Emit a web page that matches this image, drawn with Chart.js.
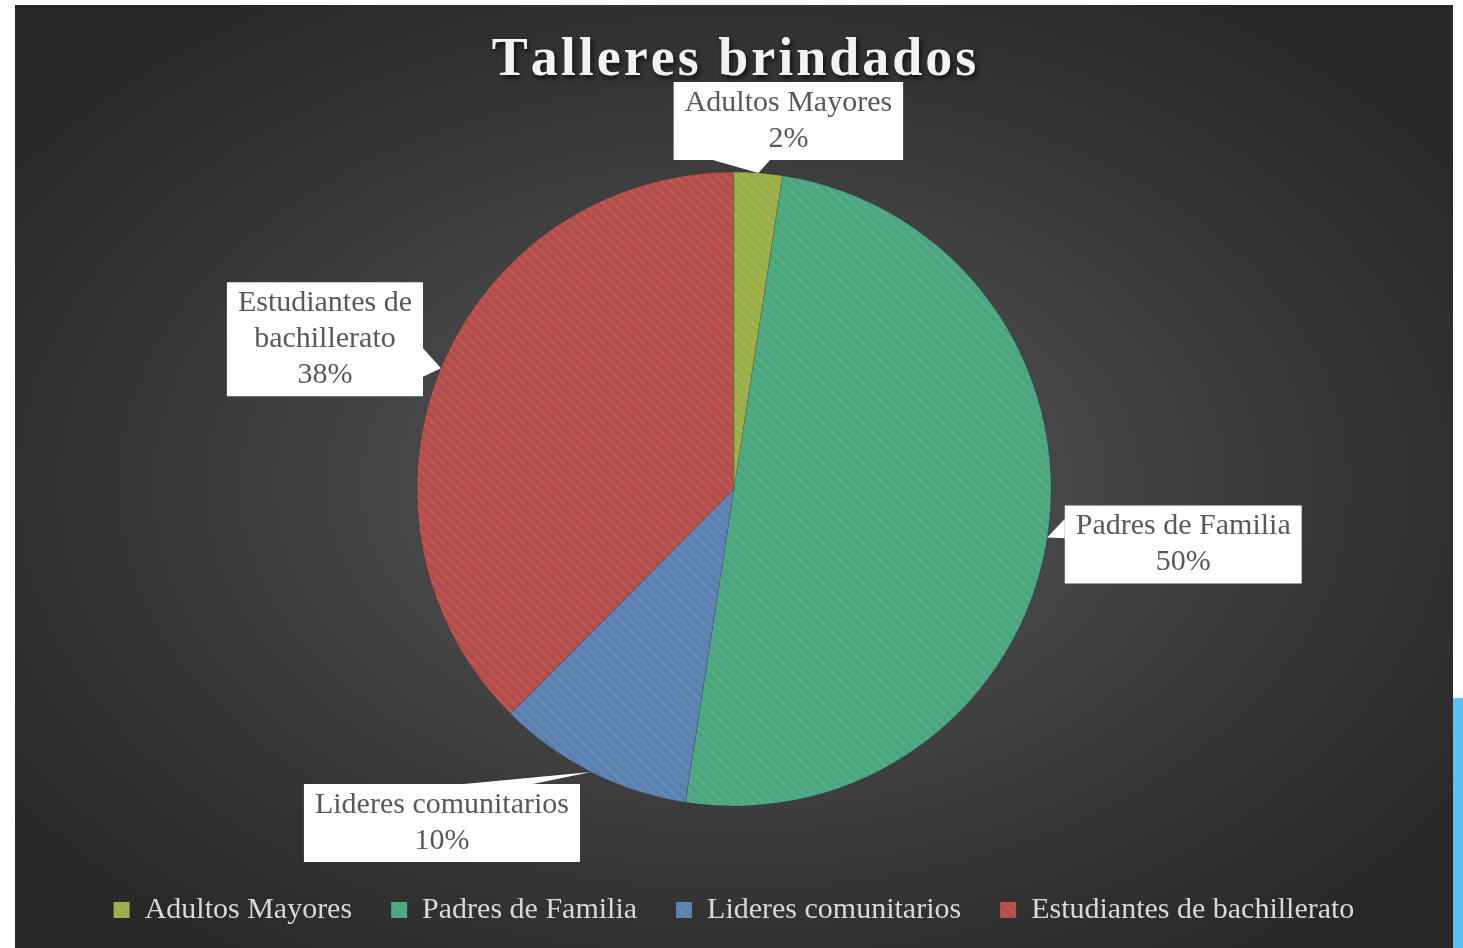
<!DOCTYPE html>
<html>
<head>
<meta charset="utf-8">
<script src="https://cdn.jsdelivr.net/npm/chart.js@4/dist/chart.umd.min.js"></script>
<style>
  body { margin: 0; background: #fff; width: 1463px; height: 948px; overflow: hidden; position: relative; }
  #frame {
    position: absolute; left: 15px; top: 5px; width: 1438px; height: 943px;
    background: radial-gradient(ellipse 62% 62% at 50% 51%, #5a5a5a 0%, #474747 35%, #353535 70%, #282828 100%);
  }
  #strip { position: absolute; left: 1453px; top: 698px; width: 10px; height: 250px; background: #5cc1f1; }
</style>
</head>
<body>
<div id="frame"><canvas id="pie" width="1438" height="943"></canvas></div>
<div id="strip"></div>
<script>
const chartTitle = 'Talleres brindados';
const categories = ['Adultos Mayores', 'Padres de Familia', 'Lideres comunitarios', 'Estudiantes de bachillerato'];
const values = [2.45, 50, 10, 37.55];
const sliceColors = ['#9aae46', '#4aa67c', '#5a80b2', '#b44d49'];

const FONT = "'Liberation Serif', 'Times New Roman', serif";
// where each callout box sits, relative to its slice's outer edge midpoint
const calloutShift = [[30, -52], [136, 7], [-149, 51], [-116, -29]];

function hatch(color) {
    const c = document.createElement('canvas');
    c.width = c.height = 10;
    const g = c.getContext('2d');
    g.fillStyle = color;
    g.fillRect(0, 0, 10, 10);
    g.strokeStyle = 'rgba(255,255,255,0.07)';
    g.lineWidth = 3;
    for (let k = -1; k <= 1; k++) {
        g.beginPath();
        g.moveTo(k * 10, 0);
        g.lineTo(k * 10 + 10, 10);
        g.stroke();
    }
    return g.createPattern(c, 'repeat');
}

function wrap(ctx, text, maxW) {
    if (ctx.measureText(text).width <= maxW) return [text];
    const words = text.split(' ');
    const lines = [];
    let cur = '';
    words.forEach(w => {
        const t = cur ? cur + ' ' + w : w;
        if (cur && ctx.measureText(t).width > maxW) { lines.push(cur); cur = w; }
        else cur = t;
    });
    lines.push(cur);
    return lines;
}

const titlePlugin = {
    id: 'titleText',
    afterDraw(chart) {
        const ctx = chart.ctx;
        const spacing = 3;
        ctx.save();
        ctx.font = 'bold 54px ' + FONT;
        ctx.textAlign = 'left';
        ctx.textBaseline = 'alphabetic';
        ctx.fillStyle = '#f2f2f2';
        ctx.shadowColor = 'rgba(0,0,0,0.7)';
        ctx.shadowBlur = 5;
        ctx.shadowOffsetX = 2;
        ctx.shadowOffsetY = 3;
        const chars = [...chartTitle];
        const widths = chars.map(ch => ctx.measureText(ch).width);
        const total = widths.reduce((a, b) => a + b, 0) + spacing * (chars.length - 1);
        let x = chart.width / 2 - total / 2;
        chars.forEach((ch, i) => {
            ctx.fillText(ch, x, 70);
            x += widths[i] + spacing;
        });
        ctx.restore();
    }
};

const calloutPlugin = {
    id: 'callouts',
    afterDatasetsDraw(chart) {
        const ctx = chart.ctx;
        const data = chart.data.datasets[0].data;
        const total = data.reduce((a, b) => a + b, 0);
        const arcs = chart.getDatasetMeta(0).data;
        ctx.save();
        ctx.font = '30px ' + FONT;
        arcs.forEach((arc, i) => {
            const p = arc.getProps(['x', 'y', 'startAngle', 'endAngle', 'outerRadius'], true);
            const mid = (p.startAngle + p.endAngle) / 2;
            const tip = { x: p.x + Math.cos(mid) * p.outerRadius, y: p.y + Math.sin(mid) * p.outerRadius };
            const lines = wrap(ctx, chart.data.labels[i], 280);
            lines.push(Math.round(data[i] / total * 100) + '%');
            const tw = Math.max(...lines.map(l => ctx.measureText(l).width));
            const w = tw + 22, h = lines.length * 36 + 6;
            const cx = tip.x + calloutShift[i][0], cy = tip.y + calloutShift[i][1];
            const L = cx - w / 2, T = cy - h / 2, R = L + w, B = T + h;
            const rx = (tip.x - cx) / (w / 2), ry = (tip.y - cy) / (h / 2);

            ctx.fillStyle = '#ffffff';
            ctx.beginPath();
            ctx.rect(L, T, w, h);
            ctx.fill();
            // pointer
            let a, b;
            if (Math.abs(rx) > Math.abs(ry)) {
                const f = tip.y < cy ? [0.17, 0.42] : [0.58, 0.83];
                const ex = rx < 0 ? L : R;
                a = [ex, T + h * f[0]]; b = [ex, T + h * f[1]];
            } else {
                const f = tip.x < cx ? [0.17, 0.42] : [0.58, 0.83];
                const ey = ry < 0 ? T : B;
                a = [L + w * f[0], ey]; b = [L + w * f[1], ey];
            }
            ctx.beginPath();
            ctx.moveTo(a[0], a[1]);
            ctx.lineTo(tip.x, tip.y);
            ctx.lineTo(b[0], b[1]);
            ctx.closePath();
            ctx.fill();

            ctx.fillStyle = '#595959';
            ctx.textAlign = 'center';
            ctx.textBaseline = 'middle';
            lines.forEach((l, j) => ctx.fillText(l, cx, T + 3 + 36 * (j + 0.5)));
        });
        ctx.restore();
    }
};

const ctx = document.getElementById('pie').getContext('2d');
new Chart(ctx, {
    type: 'pie',
    data: {
        labels: categories,
        datasets: [{
            data: values,
            backgroundColor: sliceColors.map(hatch),
            borderColor: 'rgba(0,0,0,0.12)',
            borderWidth: 1
        }]
    },
    options: {
        responsive: false,
        animation: false,
        radius: 317,
        layout: { padding: { top: 117, bottom: 13, left: 0, right: 0 } },
        plugins: {
            title: { display: false },
            tooltip: { enabled: false },
            legend: {
                display: true,
                position: 'bottom',
                labels: {
                    color: '#d9d9d9',
                    font: { family: FONT, size: 30 },
                    boxWidth: 16,
                    boxHeight: 16,
                    padding: 39,
                    generateLabels(chart) {
                        const ds = chart.data.datasets[0];
                        return chart.data.labels.map((l, i) => ({
                            text: l,
                            fillStyle: ds.backgroundColor[i],
                            strokeStyle: 'rgba(0,0,0,0)',
                            lineWidth: 0,
                            fontColor: '#d9d9d9',
                            index: i
                        }));
                    }
                }
            }
        }
    },
    plugins: [calloutPlugin, titlePlugin]
});
</script>
</body>
</html>
